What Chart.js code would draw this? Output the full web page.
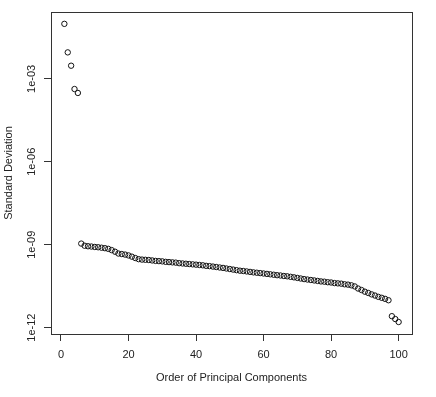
<!DOCTYPE html>
<html>
<head>
<meta charset="utf-8">
<script src="https://cdn.jsdelivr.net/npm/chart.js@4.4.1/dist/chart.umd.min.js"></script>
<style>
  html, body { margin: 0; padding: 0; background: #fff; }
  #wrap { width: 436px; height: 397px; position: relative; }
</style>
</head>
<body>
<div id="wrap"><canvas id="c" width="436" height="397"></canvas></div>
<script>
// Component order (x) and standard deviations (y)
const components = Array.from({length: 100}, (_, i) => i + 1);
const stdDev = [
  9.8e-2, 9.1e-3, 3.0e-3, 4.3e-4, 3.1e-4, 1.10e-9, 9.2e-10, 8.8e-10, 8.6e-10, 8.3e-10,
  8.1e-10, 7.8e-10, 7.5e-10, 7.1e-10, 6.4e-10, 5.6e-10, 4.8e-10, 4.6e-10, 4.4e-10, 4.1e-10,
  3.7e-10, 3.3e-10, 3.0e-10, 2.9e-10, 2.85e-10, 2.8e-10, 2.7e-10, 2.6e-10, 2.55e-10, 2.5e-10,
  2.4e-10, 2.35e-10, 2.3e-10, 2.25e-10, 2.15e-10, 2.1e-10, 2.05e-10, 2.0e-10, 1.95e-10, 1.9e-10,
  1.85e-10, 1.8e-10, 1.72e-10, 1.68e-10, 1.62e-10, 1.56e-10, 1.5e-10, 1.45e-10, 1.38e-10, 1.32e-10,
  1.26e-10, 1.2e-10, 1.15e-10, 1.12e-10, 1.08e-10, 1.04e-10, 1.0e-10, 9.7e-11, 9.4e-11, 9.1e-11,
  8.8e-11, 8.5e-11, 8.2e-11, 7.9e-11, 7.7e-11, 7.4e-11, 7.2e-11, 6.9e-11, 6.6e-11, 6.3e-11,
  6.0e-11, 5.7e-11, 5.5e-11, 5.3e-11, 5.1e-11, 4.9e-11, 4.7e-11, 4.6e-11, 4.4e-11, 4.3e-11,
  4.1e-11, 4.0e-11, 3.9e-11, 3.7e-11, 3.6e-11, 3.4e-11, 3.1e-11, 2.6e-11, 2.3e-11, 2.0e-11,
  1.8e-11, 1.6e-11, 1.45e-11, 1.3e-11, 1.2e-11, 1.1e-11, 9.8e-12, 2.6e-12, 2.05e-12, 1.6e-12
];
const xTicks = [0, 20, 40, 60, 80, 100];
const yTicks = [1e-12, 1e-9, 1e-6, 1e-3];
const yTickLabels = ['1e-12', '1e-09', '1e-06', '1e-03'];
const xTitle = 'Order of Principal Components';
const yTitle = 'Standard Deviation';

const FONT = 'Liberation Sans, Arial, Helvetica, sans-serif';
const INK = '#222';

const points = components.map((c, i) => ({x: c, y: stdDev[i]}));

const framePlugin = {
  id: 'frame',
  afterDraw(chart) {
    const {ctx, chartArea: a} = chart;
    const ys = chart.scales.y;
    ctx.save();
    ctx.strokeStyle = '#333';
    ctx.lineWidth = 1;
    ctx.strokeRect(Math.round(a.left) + 0.5, Math.round(a.top) + 0.5,
                   Math.round(a.right - a.left), Math.round(a.bottom - a.top));
    // rotated y tick labels (R style)
    ctx.fillStyle = INK;
    ctx.font = '11px ' + FONT;
    ctx.textAlign = 'center';
    ctx.textBaseline = 'middle';
    yTicks.forEach((v, i) => {
      const py = ys.getPixelForValue(v);
      ctx.save();
      ctx.translate(32, py);
      ctx.rotate(-Math.PI / 2);
      ctx.fillText(yTickLabels[i], 0, 0);
      ctx.restore();
    });
    ctx.restore();
  }
};

new Chart(document.getElementById('c'), {
  type: 'scatter',
  data: {
    datasets: [{
      data: points,
      pointStyle: 'circle',
      pointRadius: 2.7,
      pointHoverRadius: 2.7,
      borderColor: '#111',
      borderWidth: 1,
      backgroundColor: 'rgba(0,0,0,0)',
      showLine: false
    }]
  },
  options: {
    responsive: false,
    animation: false,
    events: [],
    layout: { padding: { left: 0, top: 12, right: 24, bottom: 0 } },
    plugins: { legend: { display: false }, tooltip: { enabled: false } },
    scales: {
      x: {
        type: 'linear',
        min: -2.96,
        max: 103.96,
        afterFit(s) { s.height = 63; },
        afterBuildTicks(s) { s.ticks = xTicks.map(v => ({value: v})); },
        border: { display: false },
        grid: { display: true, drawOnChartArea: false, drawTicks: true, tickLength: 7, color: '#333', lineWidth: 1 },
        ticks: { color: INK, font: { family: FONT, size: 11 }, padding: 7, maxRotation: 0, autoSkip: false },
        title: { display: true, text: xTitle, color: INK, font: { family: FONT, size: 11 }, padding: { top: 0, bottom: 12 } }
      },
      y: {
        type: 'logarithmic',
        min: Math.pow(10, -12.23),
        max: Math.pow(10, -0.58),
        afterFit(s) { s.width = 51; },
        afterBuildTicks(s) { s.ticks = yTicks.map(v => ({value: v})); },
        border: { display: false },
        grid: { display: true, drawOnChartArea: false, drawTicks: true, tickLength: 7, color: '#333', lineWidth: 1 },
        ticks: { display: false },
        title: { display: true, text: yTitle, color: INK, font: { family: FONT, size: 11 }, padding: { top: 2, bottom: 0 } }
      }
    }
  },
  plugins: [framePlugin]
});
</script>
</body>
</html>
